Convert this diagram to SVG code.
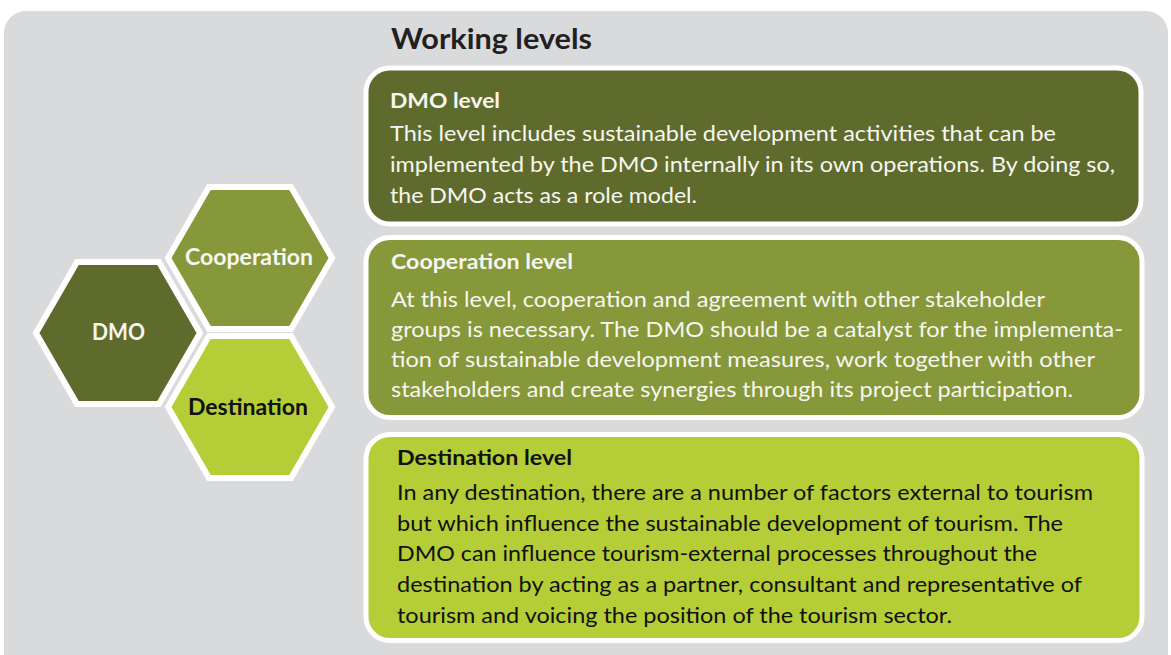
<svg xmlns="http://www.w3.org/2000/svg" width="1171" height="655" viewBox="0 0 1171 655">
<style>
.panel{fill:#d9dadc}
.box{stroke:#ffffff;stroke-width:5}
.hex{stroke:#ffffff;stroke-width:6;stroke-linejoin:miter}
.dark{fill:#5f6b2d}
.mid{fill:#86983a}
.light{fill:#b5cd36}
text{font-family:Lato,"Open Sans","Liberation Sans",sans-serif}
.title{font-size:28px;font-weight:700;fill:#231f20}
.head{font-size:21px;font-weight:700}
.body{font-size:21px;font-weight:400}
.hl{font-size:22px;font-weight:700;text-anchor:middle}
.w{fill:#f6f6f0}
.k{fill:#111111}
</style>
<rect class="panel" x="4" y="11" width="1164" height="664" rx="22"/>
<text class="title" x="391" y="49" textLength="201" lengthAdjust="spacingAndGlyphs">Working levels</text>

<g id="hex-dmo">
<path class="hex dark" d="M36,333 L77,262 L159,262 L200,333 L159,404 L77,404 Z"/>
<text class="hl w" x="118.5" y="340" textLength="53" lengthAdjust="spacingAndGlyphs">DMO</text>
</g>
<g id="hex-cooperation">
<path class="hex mid" d="M168,258 L209,187 L291,187 L332,258 L291,329 L209,329 Z"/>
<text class="hl w" x="249" y="265" textLength="128" lengthAdjust="spacingAndGlyphs">Cooperation</text>
</g>
<g id="hex-destination">
<path class="hex light" d="M168,407 L209,336 L291,336 L332,407 L291,478 L209,478 Z"/>
<text class="hl k" x="248" y="415" textLength="120" lengthAdjust="spacingAndGlyphs">Destination</text>
</g>

<g id="box-dmo-level">
<rect class="box dark" x="366" y="68" width="775" height="156" rx="24"/>
<text class="head w" x="390" y="108" textLength="110" lengthAdjust="spacingAndGlyphs">DMO level</text>
<text class="body w" x="390" y="141" textLength="666" lengthAdjust="spacingAndGlyphs">This level includes sustainable development activities that can be</text>
<text class="body w" x="390" y="172" textLength="725" lengthAdjust="spacingAndGlyphs">implemented by the DMO internally in its own operations. By doing so,</text>
<text class="body w" x="390" y="203" textLength="307" lengthAdjust="spacingAndGlyphs">the DMO acts as a role model.</text>
</g>

<g id="box-cooperation-level">
<rect class="box mid" x="366" y="237.5" width="776" height="180" rx="24"/>
<text class="head w" x="391" y="269" textLength="182" lengthAdjust="spacingAndGlyphs">Cooperation level</text>
<text class="body w" x="391" y="307" textLength="654" lengthAdjust="spacingAndGlyphs">At this level, cooperation and agreement with other stakeholder</text>
<text class="body w" x="391" y="337" textLength="732" lengthAdjust="spacingAndGlyphs">groups is necessary. The DMO should be a catalyst for the implementa-</text>
<text class="body w" x="391" y="367" textLength="704" lengthAdjust="spacingAndGlyphs">tion of sustainable development measures, work together with other</text>
<text class="body w" x="391" y="397" textLength="682" lengthAdjust="spacingAndGlyphs">stakeholders and create synergies through its project participation.</text>
</g>

<g id="box-destination-level">
<rect class="box light" x="366" y="434.5" width="776" height="206" rx="24"/>
<text class="head k" x="397" y="465" textLength="175" lengthAdjust="spacingAndGlyphs">Destination level</text>
<text class="body k" x="397" y="500" textLength="696" lengthAdjust="spacingAndGlyphs">In any destination, there are a number of factors external to tourism</text>
<text class="body k" x="397" y="531" textLength="666" lengthAdjust="spacingAndGlyphs">but which influence the sustainable development of tourism. The</text>
<text class="body k" x="397" y="561" textLength="640" lengthAdjust="spacingAndGlyphs">DMO can influence tourism-external processes throughout the</text>
<text class="body k" x="397" y="592" textLength="685" lengthAdjust="spacingAndGlyphs">destination by acting as a partner, consultant and representative of</text>
<text class="body k" x="397" y="623" textLength="555" lengthAdjust="spacingAndGlyphs">tourism and voicing the position of the tourism sector.</text>
</g>

<g id="connectors"/>
</svg>
